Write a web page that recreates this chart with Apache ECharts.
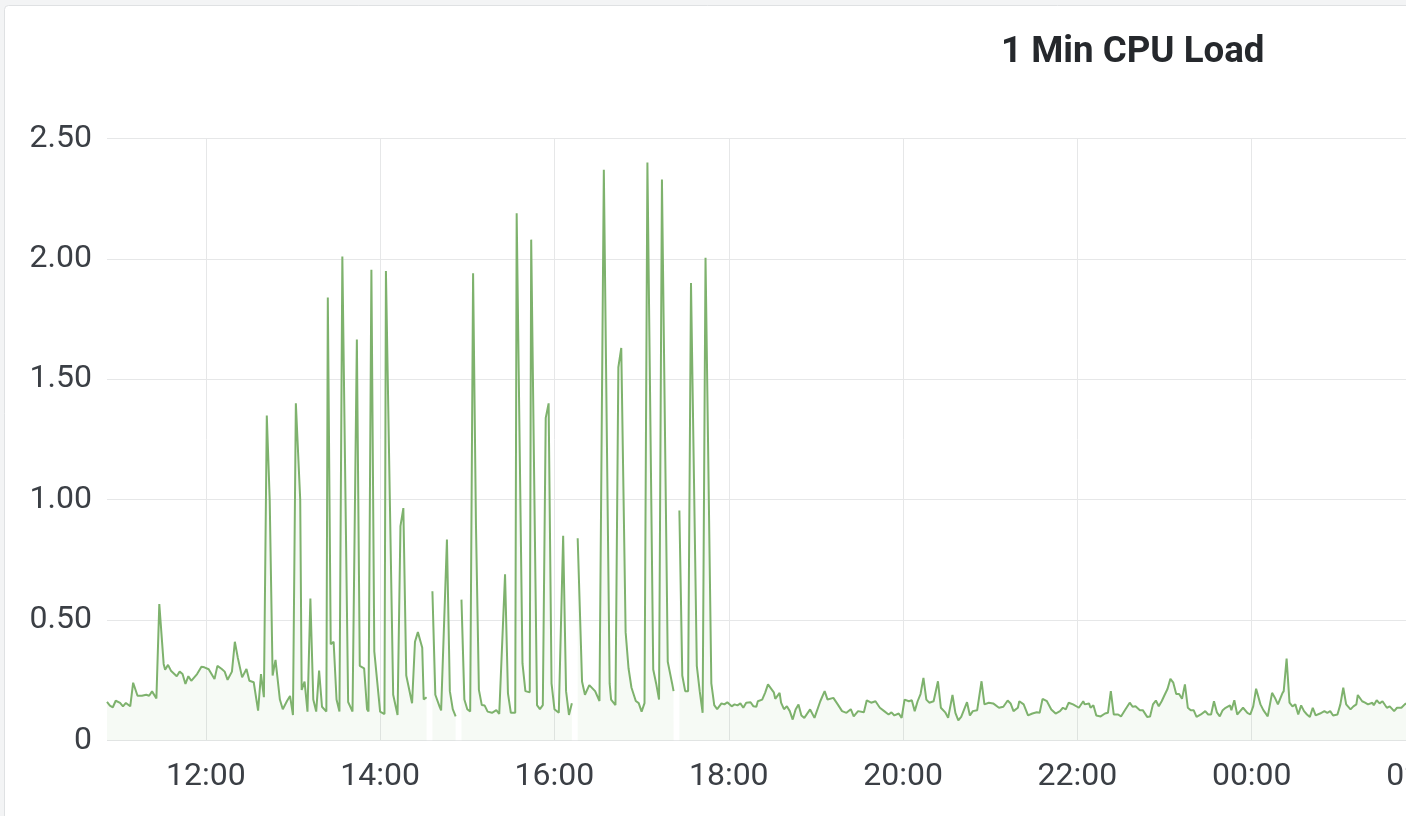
<!DOCTYPE html>
<html>
<head>
<meta charset="utf-8">
<script src="https://cdn.jsdelivr.net/npm/echarts@6/dist/echarts.min.js"></script>
<style>
  html, body { margin: 0; padding: 0; background: #f3f4f5; }
  #chart { width: 1406px; height: 816px; }
</style>
</head>
<body>
<div id="chart"></div>
<script>
// ---------------- DATA ----------------
const chartTitle = '1 Min CPU Load';
const yTicks = [0, 0.5, 1.0, 1.5, 2.0, 2.5];
const axisStart = '10:52';   // first sample / left edge
const axisEnd = '02:10';     // right edge (next day, beyond crop)

const morningTimes = ['10:52','10:54','10:56','10:58','11:01','11:03','11:05','11:08','11:10','11:13',
  '11:16','11:19','11:21','11:23','11:24','11:26','11:28','11:31','11:32','11:34',
  '11:36','11:40','11:42','11:44','11:46','11:48','11:50','11:54','11:57','11:59',
  '12:02','12:03','12:06','12:08','12:11','12:13','12:15','12:18','12:20','12:22',
  '12:25','12:26','12:28','12:30','12:33','12:36'];
const morningLoad = [0.16,0.145,0.138,0.165,0.156,0.142,0.156,0.142,0.24,0.186,
  0.186,0.19,0.186,0.204,0.197,0.175,0.567,0.318,0.294,0.314,
  0.29,0.267,0.286,0.276,0.235,0.267,0.248,0.276,0.306,0.304,
  0.296,0.30,0.255,0.31,0.297,0.286,0.252,0.286,0.41,0.345,
  0.262,0.258,0.297,0.248,0.242,0.124];

const busyTimes = ['12:38','12:40','12:42','12:44','12:46','12:48','12:51','12:53','12:56','12:58',
  '13:00','13:02','13:05','13:06','13:08','13:10','13:12','13:14','13:16','13:18',
  '13:20','13:23','13:24','13:26','13:28','13:30','13:32','13:34','13:38','13:41',
  '13:44','13:46','13:49','13:51','13:52','13:54','13:56','14:00','14:03','14:04',
  '14:09','14:12','14:14','14:16','14:18','14:22','14:24','14:26','14:29','14:30',
  '14:32','14:34','14:36','14:38','14:41','14:42','14:46','14:48','14:50','14:52',
  '14:54','14:56','14:58','15:00','15:02','15:04','15:06','15:08','15:10','15:12',
  '15:14','15:17','15:18','15:20','15:22','15:26','15:28','15:30','15:33','15:34',
  '15:38','15:40','15:43','15:44','15:48','15:50','15:52','15:54','15:56','15:58',
  '16:00','16:03','16:06','16:08','16:10','16:12','16:14','16:16','16:19','16:21',
  '16:24','16:28','16:31','16:32','16:34','16:38','16:39','16:42','16:44','16:46',
  '16:49','16:51','16:53','16:54','16:56','16:58','17:00','17:02','17:04','17:08',
  '17:10','17:12','17:14','17:18','17:21','17:22','17:24','17:26','17:28','17:30',
  '17:32','17:34','17:38','17:40','17:42','17:44','17:48','17:50','17:52'];
const busyLoad = [0.276,0.18,1.35,1.0,0.27,0.335,0.17,0.13,0.165,0.185,
  0.106,1.40,1.0,0.21,0.245,0.12,0.59,0.17,0.12,0.29,
  0.14,0.12,1.84,0.40,0.41,0.17,0.12,2.01,0.16,0.12,
  1.665,0.31,0.30,0.13,0.12,1.955,0.37,0.12,0.11,1.95,
  0.19,0.106,0.89,0.965,0.27,0.155,0.41,0.45,0.385,0.17,
  0.18,null,0.62,0.19,0.14,0.125,0.835,0.205,0.13,0.10,
  null,0.585,0.17,0.13,0.12,1.94,0.89,0.21,0.147,0.145,
  0.12,0.115,0.11,0.126,0.11,0.69,0.196,0.115,0.115,2.19,
  0.32,0.205,0.20,2.08,0.147,0.13,0.147,1.34,1.40,0.237,
  0.13,0.115,0.85,0.205,0.106,0.155,null,0.84,0.245,0.19,
  0.23,0.205,0.164,0.17,2.37,0.237,0.17,0.147,1.55,1.63,
  0.45,0.30,0.22,0.22,0.164,0.155,0.12,0.155,2.40,0.295,
  0.237,0.17,2.33,0.327,0.237,0.205,null,0.955,0.27,0.205,
  0.205,1.90,0.31,0.205,0.115,2.005,0.237,0.147,0.13];

const eveningTimes = ['17:55','17:57','17:59','18:02','18:04','18:06','18:08','18:10','18:12','18:15',
  '18:17','18:19','18:20','18:23','18:25','18:27','18:28','18:31','18:32','18:35',
  '18:36','18:38','18:40','18:42','18:44','18:46','18:48','18:50','18:52','18:56',
  '18:59','19:03','19:06','19:08','19:12','19:15','19:18','19:21','19:24','19:26',
  '19:29','19:33','19:35','19:38','19:41','19:44','19:47','19:50','19:52','19:54',
  '19:57','19:59','20:01','20:04','20:06','20:08','20:10','20:12','20:14','20:16',
  '20:18','20:21','20:22','20:24','20:26','20:29','20:31','20:34','20:36','20:38',
  '20:40','20:41','20:44','20:46','20:48','20:51','20:54','20:56','20:59','21:02',
  '21:06','21:09','21:12','21:14','21:16','21:19','21:20','21:23','21:26','21:29',
  '21:32','21:34','21:36','21:39','21:42','21:45','21:48','21:50','21:52','21:54',
  '21:57'];
const eveningLoad = [0.154,0.15,0.159,0.142,0.15,0.146,0.154,0.136,0.157,0.159,
  0.142,0.14,0.163,0.17,0.198,0.233,0.233,0.20,0.173,0.198,
  0.157,0.13,0.142,0.122,0.087,0.129,0.15,0.104,0.094,0.129,
  0.094,0.163,0.205,0.17,0.177,0.15,0.122,0.115,0.13,0.10,
  0.122,0.117,0.167,0.157,0.163,0.136,0.122,0.108,0.117,0.104,
  0.112,0.094,0.17,0.163,0.167,0.122,0.163,0.193,0.26,0.17,
  0.157,0.163,0.157,0.246,0.136,0.117,0.094,0.189,0.115,0.084,
  0.098,0.09,0.159,0.104,0.122,0.126,0.246,0.15,0.157,0.154,
  0.136,0.14,0.166,0.154,0.122,0.136,0.163,0.15,0.104,0.112,
  0.117,0.115,0.173,0.163,0.129,0.112,0.122,0.136,0.129,0.157,
  0.15];

const nightTimes = ['22:01','22:04','22:05','22:08','22:09','22:11','22:13','22:16','22:19','22:21',
  '22:23','22:25','22:28','22:30','22:33','22:36','22:38','22:40','22:43','22:45',
  '22:48','22:50','22:52','22:54','22:56','22:58','23:00','23:02','23:04','23:06',
  '23:08','23:10','23:12','23:14','23:16','23:18','23:20','23:22','23:25','23:28',
  '23:30','23:32','23:34','23:36','23:38','23:40','23:42','23:45','23:46','23:48',
  '23:50','23:52','23:54','23:57','23:59','00:01','00:03','00:06','00:08','00:09',
  '00:11','00:14','00:16','00:18','00:21','00:22','00:24','00:26','00:28','00:30',
  '00:32','00:34','00:36','00:38','00:40','00:42','00:44','00:47','00:50','00:52',
  '00:54','00:56','00:59','01:01','01:03','01:05','01:08','01:10','01:12','01:13',
  '01:16','01:18','01:20','01:23','01:24','01:26','01:28','01:30','01:33','01:35',
  '01:38','01:40','01:43','01:46','01:49','01:52','01:55','01:58','02:01','02:04',
  '02:07','02:10'];
const nightLoad = [0.136,0.163,0.15,0.154,0.136,0.146,0.104,0.10,0.112,0.115,
  0.205,0.108,0.108,0.10,0.129,0.157,0.14,0.142,0.126,0.126,
  0.098,0.10,0.15,0.166,0.142,0.163,0.189,0.214,0.256,0.24,
  0.193,0.193,0.173,0.233,0.136,0.126,0.126,0.098,0.108,0.122,
  0.108,0.108,0.163,0.117,0.10,0.126,0.136,0.146,0.126,0.167,
  0.108,0.122,0.136,0.115,0.108,0.142,0.215,0.15,0.126,0.133,
  0.10,0.198,0.177,0.15,0.195,0.205,0.34,0.157,0.142,0.15,
  0.108,0.146,0.122,0.108,0.098,0.136,0.104,0.112,0.122,0.115,
  0.122,0.104,0.108,0.15,0.219,0.15,0.129,0.142,0.15,0.189,
  0.163,0.157,0.15,0.157,0.146,0.167,0.154,0.163,0.136,0.142,
  0.122,0.136,0.136,0.154,0.14,0.15,0.13,0.15,0.14,0.15,
  0.13,0.14];

// ---------------- BUILD ----------------
function toTs(hhmm) {
  const [h, m] = hhmm.split(':').map(Number);
  const day = h < 10 ? 2 : 1;   // hours after midnight belong to the next day
  return new Date(2020, 0, day, h, m).getTime();
}
const segments = [
  [morningTimes, morningLoad], [busyTimes, busyLoad],
  [eveningTimes, eveningLoad], [nightTimes, nightLoad]
];
const seriesData = [];
segments.forEach(([ts, vs], i) => {
  if (ts.length !== vs.length) throw new Error('segment ' + i + ' length mismatch ' + ts.length + ' vs ' + vs.length);
  ts.forEach((t, j) => seriesData.push([toTs(t), vs[j]]));
});

const textColor = '#3b3f45';
const gridColor = '#e6e7e8';

const chart = echarts.init(document.getElementById('chart'), null, { renderer: 'canvas' });
chart.setOption({
  animation: false,
  backgroundColor: '#f3f4f5',
  graphic: [{
    type: 'rect', z: -100, silent: true,
    shape: { x: 4.5, y: 5.5, width: 2000, height: 1000, r: 4 },
    style: { fill: '#ffffff', stroke: '#dfe1e3', lineWidth: 1 }
  }],
  title: {
    text: chartTitle,
    left: 996,
    top: 29,
    textStyle: { fontFamily: 'Roboto', fontSize: 36.7, fontWeight: 'bold', color: '#25282c' }
  },
  // plot area continues past the right edge of the crop (02:00 label is cut)
  grid: { left: 107, width: 1333.6, top: 138.5, height: 602, containLabel: false, outerBoundsMode: 'none' },
  xAxis: {
    type: 'time',
    min: toTs(axisStart),
    max: toTs(axisEnd),
    minInterval: 2.5 * 3600 * 1000,
    maxInterval: 2.5 * 3600 * 1000,
    axisLine: { show: false },
    axisTick: { show: false },
    axisLabel: {
      showMinLabel: false, showMaxLabel: false,
      margin: 20,
      color: textColor, fontFamily: 'Roboto', fontSize: 32,
      formatter: function (v) {
        const d = new Date(v);
        return String(d.getHours()).padStart(2, '0') + ':' + String(d.getMinutes()).padStart(2, '0');
      }
    },
    splitLine: { show: true, showMinLine: false, showMaxLine: false, lineStyle: { color: gridColor, width: 1 } }
  },
  yAxis: {
    type: 'value',
    min: yTicks[0],
    max: yTicks[yTicks.length - 1],
    interval: yTicks[1] - yTicks[0],
    axisLine: { show: false },
    axisTick: { show: false },
    axisLabel: {
      margin: 15,
      color: textColor, fontFamily: 'Roboto', fontSize: 32,
      formatter: v => v === 0 ? '0' : v.toFixed(2)
    },
    splitLine: { show: true, lineStyle: { color: gridColor, width: 1 } }
  },
  series: [{
    type: 'line',
    data: seriesData,
    showSymbol: false,
    connectNulls: false,
    lineStyle: { color: '#7eb26d', width: 2 },
    itemStyle: { color: '#7eb26d' },
    areaStyle: { color: 'rgba(126,178,109,0.1)' }
  }]
});
</script>
</body>
</html>
